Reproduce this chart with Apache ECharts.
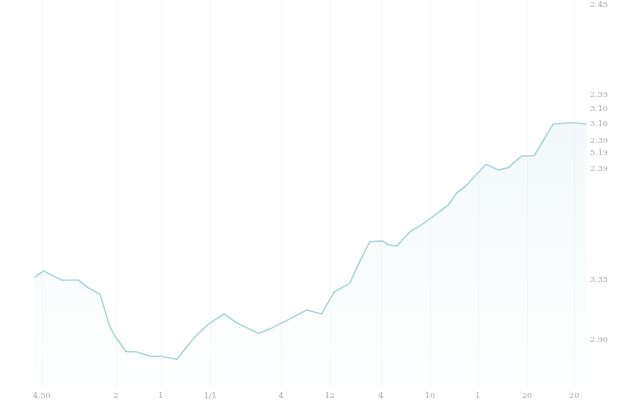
<!DOCTYPE html>
<html>
<head>
<meta charset="utf-8">
<script src="https://cdn.jsdelivr.net/npm/echarts@6/dist/echarts.min.js"></script>
<style>html,body{margin:0;padding:0;background:#fff}#c{width:640px;height:400px}</style>
</head>
<body>
<div id="c"></div>
<script>
// x positions (0-100 scale along the axis) and values
const xs = [0,1.7,5.0,8.0,9.8,11.9,13.7,14.6,16.6,18.5,21.2,22.7,25.8,28.8,31.5,34.3,36.6,40.5,42.9,49.2,51.9,54.2,57.0,59.2,60.6,62.9,64.0,65.5,67.9,70.3,74.8,76.3,77.8,81.6,83.8,85.6,88.0,90.3,93.7,97.1,99.8];
const ys = [28.4,30.2,27.8,27.8,25.8,24.2,15.8,13.4,9.4,9.3,8.1,8.2,7.4,12.8,16.5,19.1,16.8,14.1,15.4,20.1,19.1,24.8,27.0,33.8,37.7,37.9,36.9,36.6,40.3,42.4,47.2,50.3,51.9,57.7,56.2,56.8,59.8,59.9,68.0,68.4,68.0];
const xTickValues = [1.4,14.8,22.9,31.8,44.6,53.4,62.6,71.5,80.1,89.0,97.5];
const xTickLabels = ['4.50','2','1','1/1','4','12','4','10','1','20','20'];
const yTickValues = [98.7,75.5,71.9,68.0,63.7,60.6,56.4,27.8,12.4];
const yTickLabels = ['2.45','2.39','3.10','3.16','2.39','5.19','2.39','3.35','2.90'];

const points = xs.map((x, i) => [x, ys[i]]);
const chart = echarts.init(document.getElementById('c'), null, {renderer: 'canvas'});
chart.setOption({
  backgroundColor: '#ffffff',
  animation: false,
  grid: {left: 34, right: 52, top: 0, bottom: 12},
  xAxis: {
    type: 'value', min: 0, max: 100,
    axisLine: {show: false},
    axisTick: {show: false, customValues: xTickValues},
    splitLine: {show: true, lineStyle: {color: '#f8f8f8', width: 1}},
    axisLabel: {
      customValues: xTickValues,
      formatter: (v, i) => { const k = xTickValues.indexOf(v); return xTickLabels[k >= 0 ? k : i]; },
      color: '#a8a8a8', fontSize: 8, margin: 4, fontFamily: 'DejaVu Serif'
    }
  },
  yAxis: {
    type: 'value', min: 0, max: 100, position: 'right',
    axisLine: {show: false},
    axisTick: {show: false, customValues: yTickValues},
    splitLine: {show: false},
    axisLabel: {
      customValues: yTickValues,
      formatter: (v, i) => { const k = yTickValues.indexOf(v); return yTickLabels[k >= 0 ? k : i]; },
      color: '#a8a8a8', fontSize: 8, margin: 2, fontFamily: 'DejaVu Serif'
    }
  },
  series: [{
    type: 'line',
    data: points,
    showSymbol: false,
    lineStyle: {color: '#a8d2d6', width: 1.4},
    areaStyle: {
      color: new echarts.graphic.LinearGradient(0, 0, 0, 1, [
        {offset: 0, color: 'rgba(175,215,220,0.22)'},
        {offset: 1, color: 'rgba(175,215,220,0.02)'}
      ])
    }
  }]
});
</script>
</body>
</html>
